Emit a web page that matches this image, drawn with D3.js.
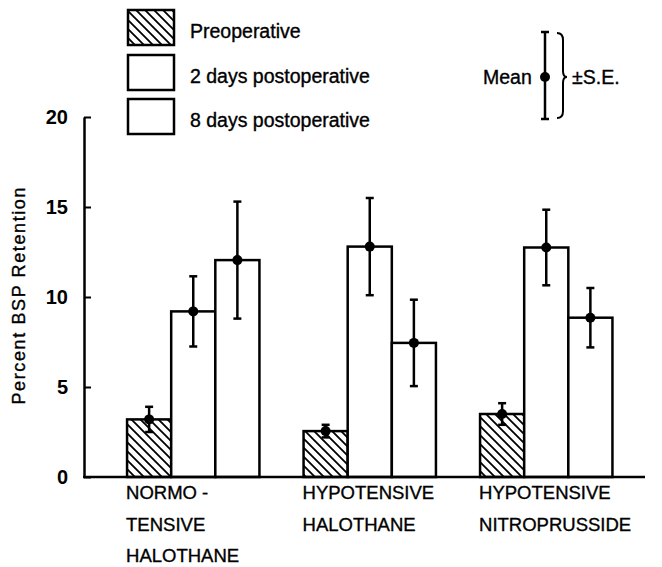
<!DOCTYPE html>
<html>
<head>
<meta charset="utf-8">
<script src="https://cdn.jsdelivr.net/npm/d3@7/dist/d3.min.js"></script>
<style>
  html, body { margin: 0; padding: 0; background: #fff; }
  svg { display: block; font-family: "Liberation Sans", Arial, Helvetica, sans-serif; }
  .lbl { stroke: #000; stroke-width: 0.35px; }
</style>
</head>
<body>
<svg id="chart" width="662" height="567"></svg>
<script>
// ---------- data ----------
const groups = ["Normotensive halothane", "Hypotensive halothane", "Hypotensive nitroprusside"];
const groupLabels = [["NORMO -", "TENSIVE", "HALOTHANE"], ["HYPOTENSIVE", "HALOTHANE"], ["HYPOTENSIVE", "NITROPRUSSIDE"]];
const series = ["Preoperative", "2 days postoperative", "8 days postoperative"];
const preopMean = [3.2, 2.55, 3.5];
const preopSE = [0.7, 0.35, 0.6];
const day2Mean = [9.2, 12.8, 12.75];
const day2SE = [1.95, 2.7, 2.1];
const day8Mean = [12.05, 7.45, 8.85];
const day8SE = [3.25, 2.4, 1.65];
const yTicks = [0, 5, 10, 15, 20];
const yLabel = "Percent BSP Retention";

const means = [preopMean, day2Mean, day8Mean];
const ses = [preopSE, day2SE, day8SE];

// ---------- setup ----------
const svg = d3.select("#chart");
const ink = "#000";

const defs = svg.append("defs");
const pat = defs.append("pattern")
  .attr("id", "hatch").attr("patternUnits", "userSpaceOnUse")
  .attr("width", 9).attr("height", 9);
pat.append("path")
  .attr("d", "M-1,-1 L10,10 M-3,6 L3,12 M6,-3 L12,3")
  .attr("stroke", ink).attr("stroke-width", 1.8).attr("fill", "none");

const y = d3.scaleLinear().domain([0, 20]).range([477, 117]);
const x0 = d3.scaleBand().domain(groups).range([105, 634.5]).paddingInner(0.25).paddingOuter(0.125);
const x1 = d3.scaleBand().domain(series).range([0, x0.bandwidth()]);

const fills = ["url(#hatch)", "#fff", "#fff"];

// bars
const rows = [];
groups.forEach((g, gi) => {
  series.forEach((s, si) => {
    rows.push({ g, s, si, mean: means[si][gi], se: ses[si][gi] });
  });
});

const barG = svg.append("g");
barG.selectAll("rect").data(rows).join("rect")
  .attr("x", d => x0(d.g) + x1(d.s))
  .attr("y", d => y(d.mean))
  .attr("width", x1.bandwidth())
  .attr("height", d => y(0) - y(d.mean))
  .attr("fill", d => fills[d.si])
  .attr("stroke", ink).attr("stroke-width", 2.5);

// error bars
const errG = svg.append("g").attr("stroke", ink).attr("stroke-width", 2.5);
rows.forEach(d => {
  const cx = x0(d.g) + x1(d.s) + x1.bandwidth() / 2;
  errG.append("line").attr("x1", cx).attr("x2", cx)
    .attr("y1", y(d.mean + d.se)).attr("y2", y(d.mean - d.se));
  [d.mean + d.se, d.mean - d.se].forEach(v => {
    errG.append("line").attr("x1", cx - 4).attr("x2", cx + 4)
      .attr("y1", y(v)).attr("y2", y(v));
  });
  svg.append("circle").attr("cx", cx).attr("cy", y(d.mean)).attr("r", 5).attr("fill", ink);
});

// y axis
const yAxis = d3.axisLeft(y).tickValues(yTicks).tickSize(-7).tickPadding(16).tickSizeOuter(0);
const yg = svg.append("g").attr("transform", "translate(84,0)").call(yAxis);
yg.select(".domain").attr("stroke", ink).attr("stroke-width", 2.5);
yg.selectAll(".tick line").attr("stroke", ink).attr("stroke-width", 2);
yg.selectAll(".tick text")
  .attr("font-size", 20).attr("font-weight", "bold").attr("fill", ink)
  .attr("font-family", "'Liberation Sans', Arial, sans-serif");

// x axis baseline
svg.append("line").attr("x1", 83).attr("x2", 645).attr("y1", y(0)).attr("y2", y(0))
  .attr("stroke", ink).attr("stroke-width", 2.5);

// group labels
groups.forEach((g, gi) => {
  const t = svg.append("text").attr("class", "lbl").attr("x", x0(g) - 1).attr("y", 499)
    .attr("font-size", 18.5).attr("fill", ink);
  groupLabels[gi].forEach((line, li) => {
    t.append("tspan").attr("x", x0(g) - 1).attr("y", 499 + li * 31.5).text(line);
  });
});

// y label
svg.append("text").attr("class", "lbl")
  .attr("transform", "translate(25,296) rotate(-90)")
  .attr("text-anchor", "middle")
  .attr("font-size", 18)
  .attr("textLength", 217).attr("lengthAdjust", "spacing")
  .attr("fill", ink)
  .text(yLabel);

// legend
const legTop = [10, 55, 99];
series.forEach((s, si) => {
  svg.append("rect").attr("x", 128).attr("y", legTop[si]).attr("width", 46).attr("height", 35)
    .attr("fill", fills[si]).attr("stroke", ink).attr("stroke-width", 2.5);
  svg.append("text").attr("class", "lbl").attr("x", 190).attr("y", legTop[si] + 28)
    .attr("font-size", 19.5).attr("fill", ink).text(s);
});

// mean ± SE key
const kx = 545, kTop = 32, kBot = 119, kMid = 77;
const kg = svg.append("g").attr("stroke", ink).attr("stroke-width", 2.5);
kg.append("line").attr("x1", kx).attr("x2", kx).attr("y1", kTop).attr("y2", kBot);
kg.append("line").attr("x1", kx - 4).attr("x2", kx + 4).attr("y1", kTop).attr("y2", kTop);
kg.append("line").attr("x1", kx - 4).attr("x2", kx + 4).attr("y1", kBot).attr("y2", kBot);
svg.append("circle").attr("cx", kx).attr("cy", kMid).attr("r", 5).attr("fill", ink);
svg.append("path")
  .attr("d", `M557,${kTop + 1} Q563,${kTop + 1} 563,${kTop + 8} L563,${kMid - 6} Q563,${kMid} 567,${kMid} Q563,${kMid} 563,${kMid + 6} L563,${kBot - 8} Q563,${kBot - 1} 557,${kBot - 1}`)
  .attr("fill", "none").attr("stroke", ink).attr("stroke-width", 2);
svg.append("text").attr("class", "lbl").attr("x", 483).attr("y", 84).attr("font-size", 19.5).attr("fill", ink).text("Mean");
svg.append("text").attr("class", "lbl").attr("x", 572).attr("y", 84).attr("font-size", 19.5).attr("fill", ink).text("±S.E.");
</script>
</body>
</html>
